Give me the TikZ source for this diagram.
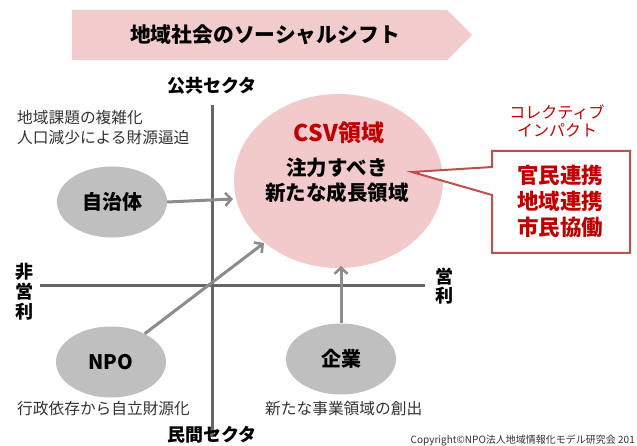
\documentclass[tikz,border=0pt]{standalone}
\usepackage{fontspec}
\setmainfont{Noto Sans CJK JP}
\usetikzlibrary{shapes.geometric,arrows.meta}
\definecolor{banner}{HTML}{F2CBCC}
\definecolor{csvpink}{HTML}{F2CACC}
\definecolor{darkred}{HTML}{C00000}
\definecolor{callred}{HTML}{C0504D}
\definecolor{ellgray}{HTML}{BFBFBF}
\definecolor{axisgray}{HTML}{666666}
\definecolor{arrgray}{HTML}{8C8C8C}
\definecolor{txtgray}{HTML}{333333}
\tikzset{
  actor/.style={ellipse, fill=ellgray, minimum width=110pt, minimum height=71pt, inner sep=0pt, font=\fontsize{20}{22}\selectfont\bfseries},
  axisline/.style={draw=axisgray, line width=3pt},
  flowarrow/.style={draw=arrgray, line width=3pt, -{Straight Barb[length=6pt,width=13pt,line width=2.6pt]}},
  desc/.style={anchor=west, inner sep=0pt, text=txtgray, font=\fontsize{15.7}{17}\selectfont},
  sector/.style={inner sep=0pt, font=\fontsize{18}{20}\selectfont\bfseries},
  vlabel/.style={inner sep=0pt, align=center, font=\fontsize{18}{20}\selectfont\bfseries},
}
\begin{document}
\begin{tikzpicture}[x=1pt,y=-1pt]
\clip (0,0) rectangle (637,446);
\fill[white] (0,0) rectangle (637,446);
% banner
\path[fill=banner] (72,10) -- (447,10) -- (472,35) -- (447,60) -- (72,60) -- cycle;
\node[font=\fontsize{20.8}{23}\selectfont\bfseries] (title) at (265,35) {地域社会のソーシャルシフト};
% axes
\coordinate (vtop) at (212,105);
\coordinate (vbot) at (212,437);
\coordinate (hleft) at (40,286);
\coordinate (hright) at (425,286);
\draw[axisline] (vtop) -- (vbot);
\draw[axisline] (hleft) -- (hright);
% labels
\node[sector] (public) at (212,86) {公共セクタ};
\node[sector] (private) at (212,435) {民間セクタ};
\node[vlabel] (nonprofit) at (24,292) {非\\営\\利};
\node[vlabel, font=\fontsize{18}{19}\selectfont\bfseries] (profit) at (444,286) {営\\利};
\node[desc] (d1) at (17,118) {地域課題の複雑化};
\node[desc] (d2) at (17,138) {人口減少による財源逼迫};
\node[desc] (d3) at (17,409) {行政依存から自立財源化};
\node[desc] (d4) at (265,409) {新たな事業領域の創出};
% CSV ellipse
\node[ellipse, fill=csvpink, minimum width=209pt, minimum height=174pt, inner sep=0pt] (csv) at (338.5,181) {};
\node[text=darkred, font=\fontsize{23}{25}\selectfont\bfseries] (csvt) at (339,133) {CSV領域};
\node[align=center, font=\fontsize{20.5}{25}\selectfont\bfseries] (csvd) at (337,180.5) {注力すべき\\新たな成長領域};
% collective impact
\node[align=center, text=darkred, font=\fontsize{16}{18.5}\selectfont] (ci) at (557,121) {コレクティブ\\インパクト};
\coordinate (ptip) at (412,172);
\path[draw=callred, fill=white, line width=2pt, line join=miter]
  (492,167) -- (ptip) -- (492,195) -- (492,253) -- (630,253) -- (630,151) -- (492,151) -- cycle;
\node[align=center, text=darkred, font=\fontsize{21.5}{26}\selectfont\bfseries] (callt) at (560,201) {官民連携\\地域連携\\市民協働};
% actors
\node[actor] (jichi) at (112,202) {自治体};
\node[actor] (npo) at (111,362) {NPO};
\node[actor] (kigyo) at (341,359) {企業};
% arrows
\coordinate (jtip) at (233,199);
\coordinate (ntip) at (264,243);
\coordinate (ktip) at (341,266);
\draw[flowarrow] (jichi.east) -- (jtip);
\draw[flowarrow] (npo.40) -- (ntip);
\draw[flowarrow] (kigyo.north) -- (ktip);
% copyright
\node[anchor=base east, inner sep=0pt, text=txtgray, font=\fontsize{10}{12}\selectfont] (copy) at (635,443) {Copyright©NPO法人地域情報化モデル研究会 201};
\end{tikzpicture}
\end{document}
